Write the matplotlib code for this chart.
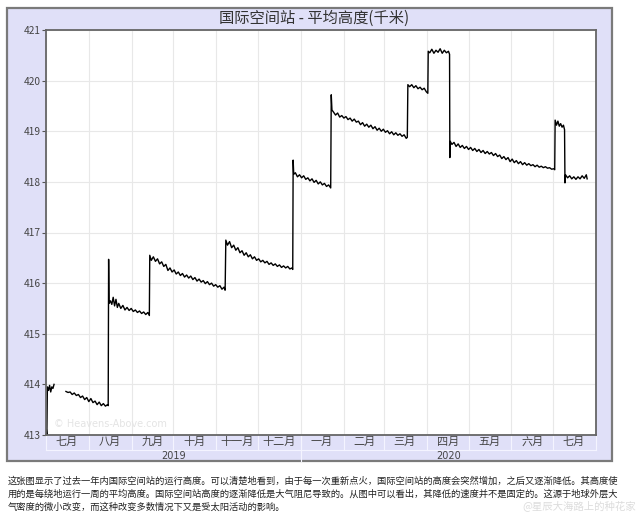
import matplotlib
matplotlib.use("Agg")
import matplotlib.pyplot as plt
import matplotlib.dates as mdates
from matplotlib.patches import Rectangle
from matplotlib.lines import Line2D
from matplotlib.transforms import blended_transform_factory
from datetime import datetime
import numpy as np

plt.rcParams['font.family'] = ['Noto Sans CJK SC', 'DejaVu Sans']

title = "国际空间站 - 平均高度(千米)"
month_names = ['一月', '二月', '三月', '四月', '五月', '六月',
               '七月', '八月', '九月', '十月', '十一月', '十二月']
years = ['2019', '2020']
caption = ["这张图显示了过去一年内国际空间站的运行高度。可以清楚地看到，由于每一次重新点火，国际空间站的高度会突然增加，之后又逐渐降低。其高度使",
           "用的是每绕地运行一周的平均高度。国际空间站高度的逐渐降低是大气阻尼导致的。从图中可以看出，其降低的速度并不是固定的。这源于地球外层大",
           "气密度的微小改变，而这种改变多数情况下又是受太阳活动的影响。"]

# days after 2019-07-01, altitude in km (nan = gap in data)
days = [0.3, 0.6, 1.0, 1.8, 2.6, 3.4, 4.2, 5.0, 5.8, 10.0,
        14.4, 15.9, 17.4, 18.9, 20.4, 21.9, 23.4, 24.9, 26.4, 27.9, 29.4, 30.9, 32.4, 33.9,
        35.4, 36.9, 38.4, 39.9, 41.4, 42.9, 44.4, 44.9,
        45.2, 45.5, 46.5, 47.5, 48.5, 49.5, 50.5, 51.5, 52.5, 54, 55.5, 57, 58.5, 60, 61.5,
        63, 64.5, 66, 67.5, 69, 70.5, 72, 73.5, 74.6,
        74.9, 76, 77.5, 79, 80.5, 82, 83.5, 85, 86.5, 88, 89.5, 91, 92.5, 94, 95.5, 97, 98.5,
        100, 101.5, 103, 104.5, 106, 107.5, 109, 110.5, 112, 113.5, 115, 116.5, 118, 119.5,
        121, 122.5, 124, 125.5, 127, 128.5, 129.3,
        129.8, 131, 132.5, 134, 135.5, 137, 138.5, 140, 141.5, 143, 144.5, 146, 147.5, 149,
        150.5, 152, 153.5, 155, 156.5, 158, 159.5, 161, 162.5, 164, 165.5, 167, 168.5, 170,
        171.5, 173, 174.5, 176, 177.5, 178.1,
        178.4, 178.8, 180, 181.5, 183, 184.5, 186, 187.5, 189, 190.5, 192, 193.5, 195, 196.5,
        198, 199.5, 201, 202.5, 204, 205.5,
        205.9, 206.4, 207.5, 209, 210.5, 212, 213.5, 215, 216.5, 218, 219.5, 221, 222.5, 224,
        225.5, 227, 228.5, 230, 231.5, 233, 234.5, 236, 237.5, 239, 240.5, 242, 243.5, 245,
        246.5, 248, 249.5, 251, 252.5, 254, 255.5, 257, 258.5, 260, 260.8,
        261.2, 262.5, 264, 265.5, 267, 268.5, 270, 271.5, 273, 274.5, 275.6,
        275.9, 277, 278.5, 280, 281.5, 283, 284.5, 286, 287.5, 289, 290.5, 291.3,
        291.5, 291.8, 293, 294.5, 296, 297.5, 299, 300.5, 302, 303.5, 305, 306.5, 308, 309.5,
        311, 312.5, 314, 315.5, 317, 318.5, 320, 321.5, 323, 324.5, 326, 327.5, 329, 330.5,
        332, 333.5, 335, 336.5, 338, 339.5, 341, 342.5, 344, 345.5, 347, 348.5, 350, 351.5,
        353, 354.5, 356, 357.5, 359, 360.5, 362, 363.5, 365, 366.5, 367.2,
        367.5, 368.5, 369.5, 370.5, 371.5, 372.5, 373.5, 374.3,
        374.6, 375, 376.5, 378, 379.5, 381, 382.5, 384, 385.5, 387, 388.5, 390, 390.6]
alt = [413.1, 413.0, 413.95, 413.88, 413.98, 413.85, 413.95, 413.92, 414.0, np.nan,
       413.86, 413.84, 413.85, 413.80, 413.83, 413.78, 413.80, 413.74, 413.77, 413.70, 413.74, 413.66, 413.72, 413.64,
       413.67, 413.60, 413.65, 413.58, 413.62, 413.57, 413.60, 413.58,
       416.47, 415.6, 415.65, 415.58, 415.72, 415.55, 415.68, 415.52, 415.6, 415.5, 415.56, 415.47, 415.52, 415.46, 415.5,
       415.44, 415.47, 415.42, 415.45, 415.4, 415.43, 415.38, 415.42, 415.36,
       416.55, 416.45, 416.52, 416.43, 416.48, 416.38, 416.42, 416.33, 416.37, 416.25, 416.3, 416.22, 416.26, 416.18, 416.22, 416.15, 416.19,
       416.12, 416.16, 416.1, 416.14, 416.07, 416.11, 416.04, 416.08, 416.02, 416.05, 415.99, 416.03, 415.97, 416.0,
       415.94, 415.97, 415.92, 415.95, 415.88, 415.92, 415.86,
       416.85, 416.75, 416.82, 416.7, 416.75, 416.65, 416.7, 416.6, 416.64, 416.55, 416.6, 416.52, 416.56, 416.48,
       416.52, 416.45, 416.48, 416.42, 416.45, 416.4, 416.43, 416.37, 416.4, 416.35, 416.38, 416.33, 416.36, 416.31,
       416.34, 416.3, 416.33, 416.28, 416.3, 416.27,
       418.43, 418.15, 418.18, 418.1, 418.14, 418.08, 418.12, 418.05, 418.08, 418.02, 418.06, 417.99, 418.03, 417.96,
       418.0, 417.94, 417.97, 417.91, 417.94, 417.88,
       419.72, 419.42, 419.38, 419.32, 419.36, 419.28, 419.31, 419.26, 419.29, 419.23, 419.26, 419.2, 419.24, 419.18,
       419.2, 419.13, 419.17, 419.1, 419.14, 419.08, 419.12, 419.05, 419.09, 419.02, 419.06, 419.0, 419.04, 418.98,
       419.01, 418.95, 418.99, 418.93, 418.97, 418.92, 418.95, 418.9, 418.93, 418.86, 418.88,
       419.92, 419.88, 419.92, 419.86, 419.9, 419.84, 419.87, 419.82, 419.85, 419.78, 419.75,
       420.58, 420.55, 420.62, 420.54, 420.6, 420.56, 420.63, 420.54, 420.6, 420.55, 420.58, 420.52,
       418.48, 418.8, 418.74, 418.78, 418.7, 418.75, 418.68, 418.72, 418.66, 418.7, 418.64, 418.68, 418.62, 418.66,
       418.6, 418.64, 418.58, 418.62, 418.56, 418.6, 418.55, 418.58, 418.52, 418.56, 418.5, 418.53, 418.46, 418.5,
       418.44, 418.48, 418.4, 418.45, 418.38, 418.42, 418.36, 418.4, 418.34, 418.38, 418.33, 418.36, 418.32, 418.34,
       418.3, 418.33, 418.29, 418.31, 418.28, 418.3, 418.27, 418.28, 418.25, 418.26, 418.24,
       419.22, 419.12, 419.2, 419.1, 419.15, 419.08, 419.12, 419.03,
       417.98, 418.14, 418.08, 418.12, 418.06, 418.1, 418.05, 418.1, 418.06, 418.12, 418.07, 418.14, 418.06]

start = datetime(2019, 7, 1)
end = datetime(2020, 8, 1)
x = mdates.date2num(start) + np.array(days)

fig = plt.figure(figsize=(6.4, 5.13), dpi=100)
W, H = 640.0, 513.0

# lavender panel behind chart
fig.patches.append(Rectangle((7 / W, 1 - 461 / H), 605 / W, 453 / H, transform=fig.transFigure,
                             facecolor='#e0e0f8', edgecolor='#7a7a7a', linewidth=1.6, zorder=-10))

ax = fig.add_axes([46 / W, 1 - 435 / H, 550 / W, 405 / H])
ax.set_zorder(1)
ax.set_facecolor('white')
ax.plot(x, alt, color='black', linewidth=1.0)

ax.set_xlim(mdates.date2num(start), mdates.date2num(end))
ax.set_ylim(413, 421)
ax.set_yticks(range(413, 422))
ax.tick_params(axis='y', labelsize=7.3, colors='#555555', length=3, width=0.8, pad=1)
ax.yaxis.set_tick_params(labelcolor='#444444')

ax.xaxis.set_major_locator(mdates.MonthLocator())
ax.xaxis.set_major_formatter(plt.NullFormatter())
ax.xaxis.set_minor_locator(mdates.MonthLocator(bymonthday=16))
ax.xaxis.set_minor_formatter(plt.FuncFormatter(lambda v, p: month_names[mdates.num2date(v).month - 1]))
ax.tick_params(axis='x', which='both', length=0)
ax.tick_params(axis='x', which='minor', labelsize=8, labelcolor='#444444', pad=1)

ax.grid(True, which='major', color='#e8e8e8', linewidth=0.8)
for s in ax.spines.values():
    s.set_color('#666666')
    s.set_linewidth(1.3)

# month / year label bands under the axes
tr = blended_transform_factory(ax.transData, ax.transAxes)
months = [mdates.date2num(datetime(2019 + (6 + i) // 12, (6 + i) % 12 + 1, 1)) for i in range(14)]
for m in months:
    ax.add_line(Line2D([m, m], [0, -0.037], transform=tr, color='#f4f4ff', linewidth=0.8, clip_on=False))
jan = mdates.date2num(datetime(2020, 1, 1))
ax.add_line(Line2D([jan, jan], [0, -0.065], transform=tr, color='#f4f4ff', linewidth=0.8, clip_on=False))
ax.add_line(Line2D([0, 1], [-0.037, -0.037], transform=ax.transAxes, color='#f4f4ff', linewidth=0.8, clip_on=False))
ax.text((mdates.date2num(start) + jan) / 2, -0.052, years[0], transform=tr, ha='center', va='center',
        fontsize=7, color='#444444', family=['DejaVu Sans'])
ax.text((jan + mdates.date2num(end)) / 2, -0.052, years[1], transform=tr, ha='center', va='center',
        fontsize=7, color='#444444', family=['DejaVu Sans'])

ax.text(0.015, 0.02, "© Heavens-Above.com", transform=ax.transAxes, fontsize=7, color='#e4e4e4',
        family=['DejaVu Sans'])

fig.text(314 / W, 1 - 18 / H, title, ha='center', va='center', fontsize=11, color='#333333')

for i, line in enumerate(caption):
    fig.text(8 / W, 1 - (481 + 13 * i) / H, line, ha='left', va='center', fontsize=6.7, color='#222222')

fig.text(636 / W, 1 - 506 / H, "@星辰大海路上的种花家", ha='right', va='center', fontsize=7.5,
         color='#dcdcdc')

plt.savefig('out.png', dpi=100)
